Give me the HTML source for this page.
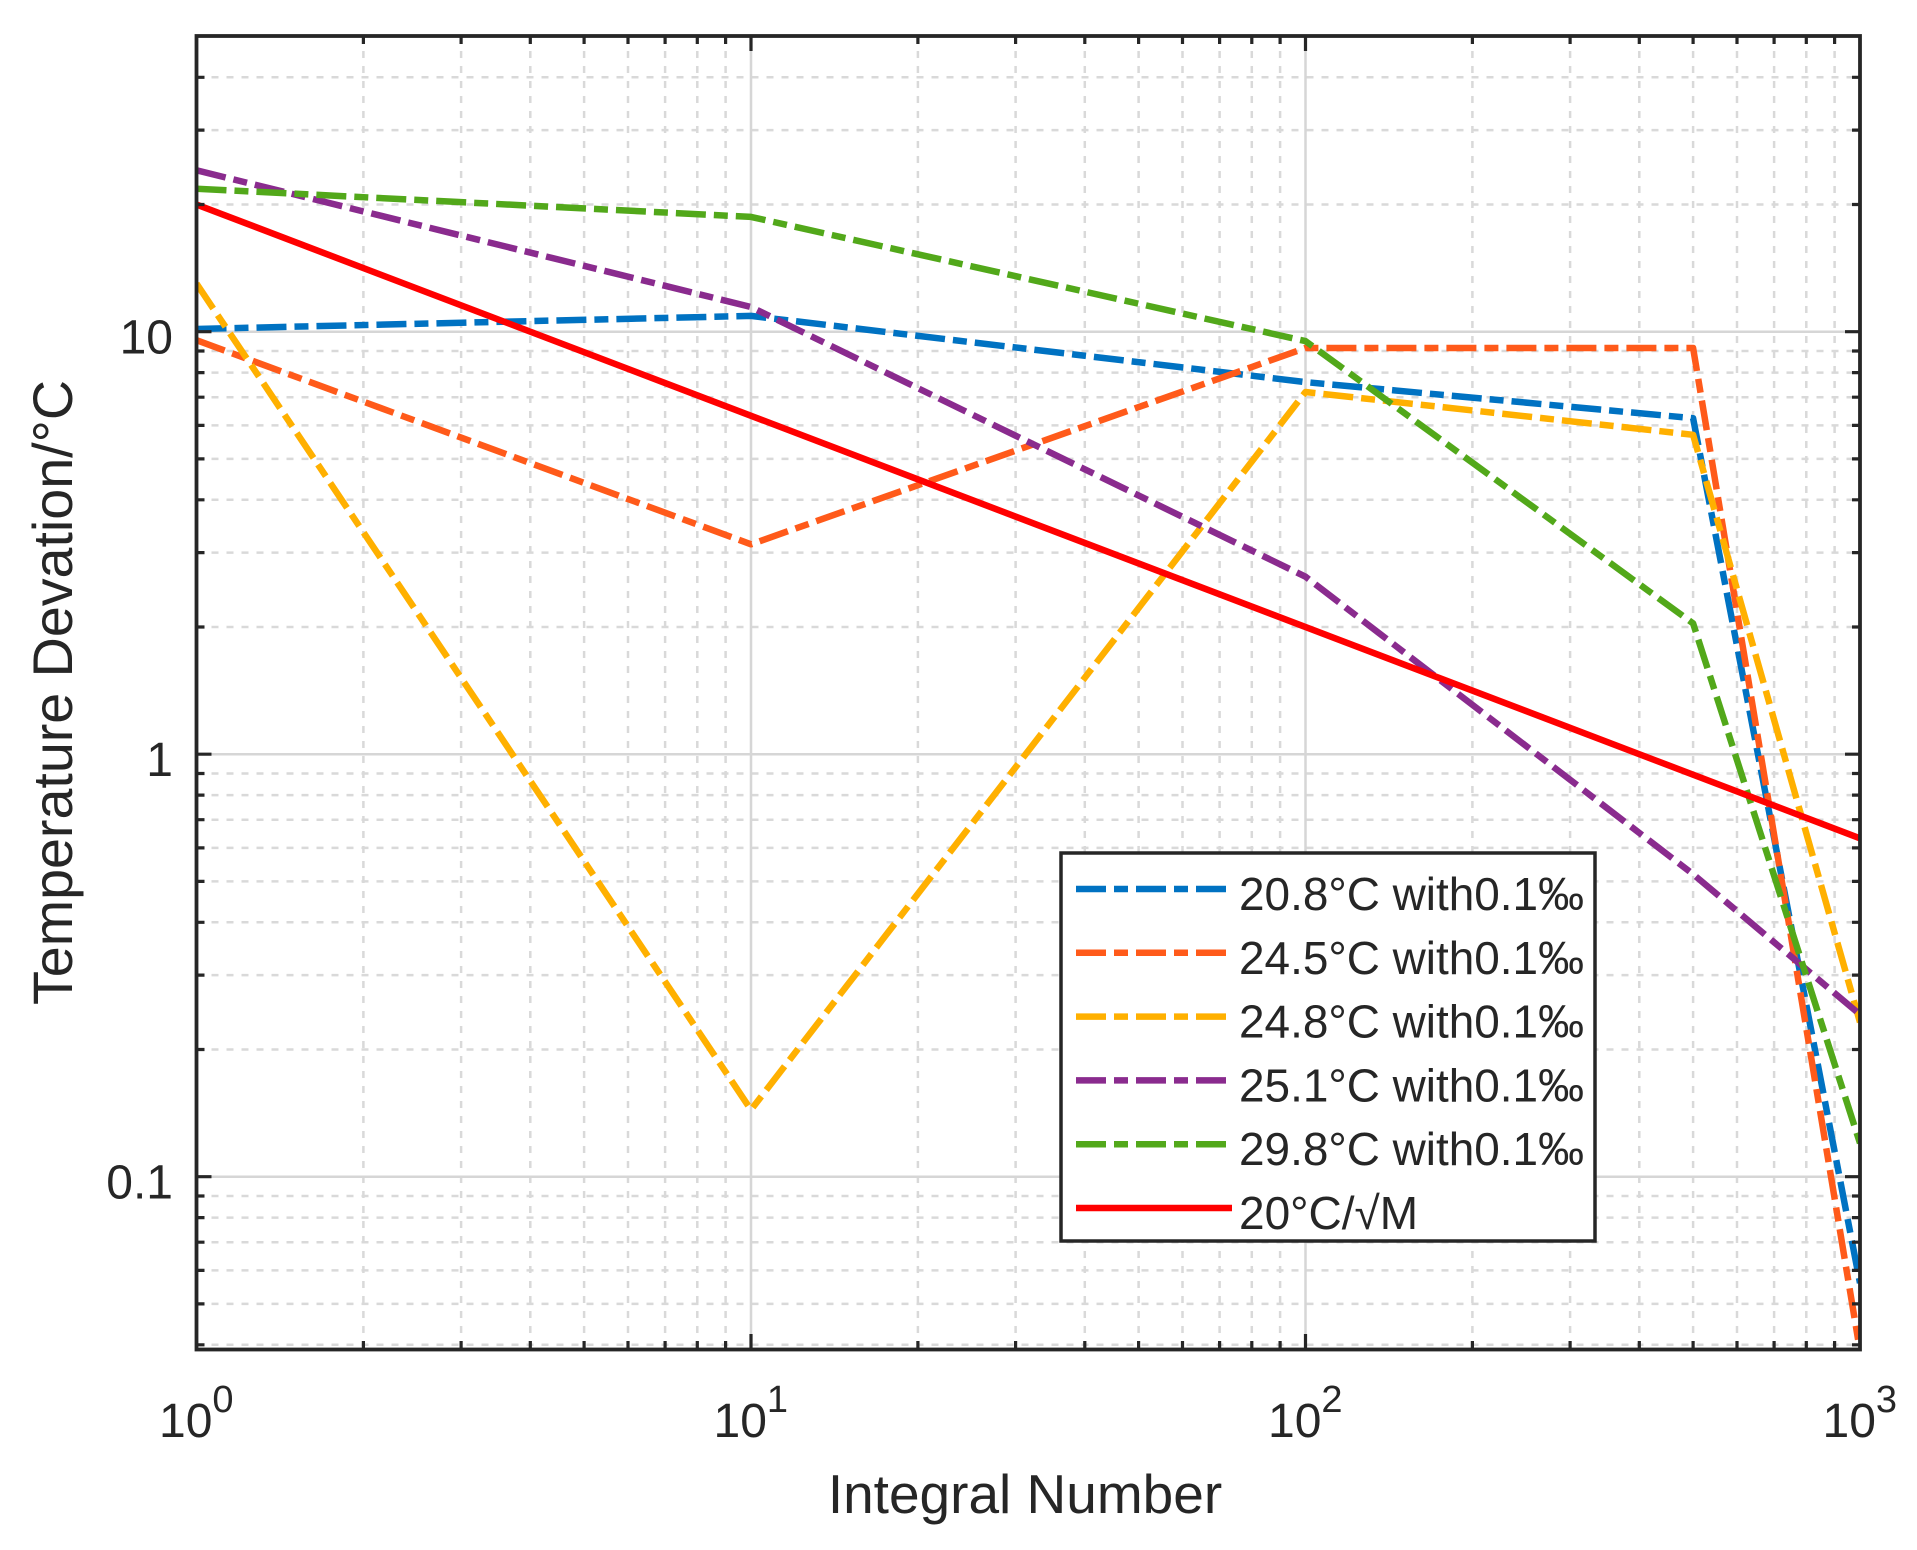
<!DOCTYPE html>
<html>
<head>
<meta charset="utf-8">
<style>
html,body{margin:0;padding:0;background:#fff;}
svg{display:block;}
text{font-family:"Liberation Sans",Arial,sans-serif;fill:#262626;}
</style>
</head>
<body>
<svg width="1917" height="1550" viewBox="0 0 1917 1550" xmlns="http://www.w3.org/2000/svg">
<defs>
<clipPath id="ax"><rect x="196.5" y="36" width="1663.5" height="1313.5"/></clipPath>
</defs>
<rect x="0" y="0" width="1917" height="1550" fill="#fff"/>

<!-- minor grid -->
<g stroke="#d9d9d9" stroke-width="2.5" stroke-dasharray="7 8" fill="none">
<path d="M363.4 36V1349M461.1 36V1349M530.3 36V1349M584.1 36V1349M628 36V1349M665.1 36V1349M697.3 36V1349M725.6 36V1349
M917.9 36V1349M1015.6 36V1349M1084.8 36V1349M1138.6 36V1349M1182.5 36V1349M1219.6 36V1349M1251.8 36V1349M1280.1 36V1349
M1472.4 36V1349M1570.1 36V1349M1639.3 36V1349M1693.1 36V1349M1737 36V1349M1774.1 36V1349M1806.3 36V1349M1834.6 36V1349"/>
<path d="M196.5 204.5H1860M196.5 130.1H1860M196.5 77.3H1860
M196.5 627H1860M196.5 552.6H1860M196.5 499.8H1860M196.5 458.9H1860M196.5 425.4H1860M196.5 397.2H1860M196.5 372.6H1860M196.5 351H1860
M196.5 1049.5H1860M196.5 975.1H1860M196.5 922.3H1860M196.5 881.4H1860M196.5 847.9H1860M196.5 819.7H1860M196.5 795.1H1860M196.5 773.5H1860
M196.5 1344.8H1860M196.5 1303.9H1860M196.5 1270.4H1860M196.5 1242.2H1860M196.5 1217.6H1860M196.5 1196H1860"/>
</g>
<!-- major grid -->
<g stroke="#d6d6d6" stroke-width="2.5" fill="none">
<path d="M751 36V1349M1305.5 36V1349M196.5 331.7H1860M196.5 754.2H1860M196.5 1176.7H1860"/>
</g>

<!-- series -->
<g clip-path="url(#ax)" fill="none" stroke-width="6.5" stroke-linejoin="round">
<polyline stroke="#0072C2" stroke-dasharray="30 8 14 8" points="196.5,329 751,315.9 1305.5,382.1 1693.1,418.2 1860,1283.1"/>
<polyline stroke="#FF5A1A" stroke-dasharray="30 8 14 8" points="196.5,340.2 751,544.3 1305.5,348 1693.1,348 1860,1351"/>
<polyline stroke="#FFB000" stroke-dasharray="30 8 14 8" points="196.5,283.6 751,1109.8 1305.5,392 1693.1,434.8 1860,1022.3"/>
<polyline stroke="#8A2B8E" stroke-dasharray="30 8 14 8" points="196.5,170.3 751,307 1305.5,576.7 1693.1,874.2 1860,1014.5"/>
<polyline stroke="#52A81A" stroke-dasharray="30 8 14 8" points="196.5,188.7 751,216.9 1305.5,341.1 1693.1,623.4 1860,1143.2"/>
<polyline stroke="#FF0000" points="196.5,204.5 1860,838.3"/>
</g>

<!-- ticks -->
<g stroke="#262626" stroke-width="3.2" fill="none">
<path d="M751 1349v-15M1305.5 1349v-15M751 36v15M1305.5 36v15"/>
<path d="M363.4 1349v-8M461.1 1349v-8M530.3 1349v-8M584.1 1349v-8M628 1349v-8M665.1 1349v-8M697.3 1349v-8M725.6 1349v-8
M917.9 1349v-8M1015.6 1349v-8M1084.8 1349v-8M1138.6 1349v-8M1182.5 1349v-8M1219.6 1349v-8M1251.8 1349v-8M1280.1 1349v-8
M1472.4 1349v-8M1570.1 1349v-8M1639.3 1349v-8M1693.1 1349v-8M1737 1349v-8M1774.1 1349v-8M1806.3 1349v-8M1834.6 1349v-8"/>
<path d="M363.4 36v8M461.1 36v8M530.3 36v8M584.1 36v8M628 36v8M665.1 36v8M697.3 36v8M725.6 36v8
M917.9 36v8M1015.6 36v8M1084.8 36v8M1138.6 36v8M1182.5 36v8M1219.6 36v8M1251.8 36v8M1280.1 36v8
M1472.4 36v8M1570.1 36v8M1639.3 36v8M1693.1 36v8M1737 36v8M1774.1 36v8M1806.3 36v8M1834.6 36v8"/>
<path d="M196.5 331.7h15M196.5 754.2h15M196.5 1176.7h15M1860 331.7h-15M1860 754.2h-15M1860 1176.7h-15"/>
<path d="M196.5 204.5h8M196.5 130.1h8M196.5 77.3h8
M196.5 627h8M196.5 552.6h8M196.5 499.8h8M196.5 458.9h8M196.5 425.4h8M196.5 397.2h8M196.5 372.6h8M196.5 351h8
M196.5 1049.5h8M196.5 975.1h8M196.5 922.3h8M196.5 881.4h8M196.5 847.9h8M196.5 819.7h8M196.5 795.1h8M196.5 773.5h8
M196.5 1344.8h8M196.5 1303.9h8M196.5 1270.4h8M196.5 1242.2h8M196.5 1217.6h8M196.5 1196h8"/>
<path d="M1860 204.5h-8M1860 130.1h-8M1860 77.3h-8
M1860 627h-8M1860 552.6h-8M1860 499.8h-8M1860 458.9h-8M1860 425.4h-8M1860 397.2h-8M1860 372.6h-8M1860 351h-8
M1860 1049.5h-8M1860 975.1h-8M1860 922.3h-8M1860 881.4h-8M1860 847.9h-8M1860 819.7h-8M1860 795.1h-8M1860 773.5h-8
M1860 1344.8h-8M1860 1303.9h-8M1860 1270.4h-8M1860 1242.2h-8M1860 1217.6h-8M1860 1196h-8"/>
</g>

<!-- axes box -->
<rect x="196.5" y="36" width="1663.5" height="1313.5" fill="none" stroke="#262626" stroke-width="3.8"/>

<!-- y tick labels -->
<g font-size="48" text-anchor="end">
<text x="173" y="353.7">10</text>
<text x="173" y="776.2">1</text>
<text x="173" y="1198.7">0.1</text>
</g>

<!-- x tick labels -->
<g>
<text x="159" y="1437" font-size="48">10</text><text x="212.4" y="1412" font-size="38">0</text>
<text x="713.5" y="1437" font-size="48">10</text><text x="766.9" y="1412" font-size="38">1</text>
<text x="1268" y="1437" font-size="48">10</text><text x="1321.4" y="1412" font-size="38">2</text>
<text x="1822.5" y="1437" font-size="48">10</text><text x="1875.9" y="1412" font-size="38">3</text>
</g>

<!-- axis labels -->
<text x="1025" y="1513" font-size="55" text-anchor="middle">Integral Number</text>
<text transform="translate(72,692.5) rotate(-90)" x="0" y="0" font-size="56" text-anchor="middle" textLength="625" lengthAdjust="spacingAndGlyphs">Temperature Devation/°C</text>

<!-- legend -->
<rect x="1061" y="853" width="534" height="388" fill="#fff" stroke="#262626" stroke-width="3.5"/>
<g fill="none" stroke-width="6.5">
<line x1="1076" y1="889" x2="1229" y2="889" stroke="#0072C2" stroke-dasharray="30 8 14 8"/>
<line x1="1076" y1="952.8" x2="1229" y2="952.8" stroke="#FF5A1A" stroke-dasharray="30 8 14 8"/>
<line x1="1076" y1="1016.6" x2="1229" y2="1016.6" stroke="#FFB000" stroke-dasharray="30 8 14 8"/>
<line x1="1076" y1="1080.4" x2="1229" y2="1080.4" stroke="#8A2B8E" stroke-dasharray="30 8 14 8"/>
<line x1="1076" y1="1144.2" x2="1229" y2="1144.2" stroke="#52A81A" stroke-dasharray="30 8 14 8"/>
<line x1="1076" y1="1208" x2="1232" y2="1208" stroke="#FF0000"/>
</g>
<g font-size="46">
<text x="1239" y="910" textLength="345" lengthAdjust="spacingAndGlyphs">20.8°C with0.1‰</text>
<text x="1239" y="973.8" textLength="345" lengthAdjust="spacingAndGlyphs">24.5°C with0.1‰</text>
<text x="1239" y="1037.6" textLength="345" lengthAdjust="spacingAndGlyphs">24.8°C with0.1‰</text>
<text x="1239" y="1101.4" textLength="345" lengthAdjust="spacingAndGlyphs">25.1°C with0.1‰</text>
<text x="1239" y="1165.2" textLength="345" lengthAdjust="spacingAndGlyphs">29.8°C with0.1‰</text>
<text x="1239" y="1229">20°C/√M</text>
</g>
</svg>
</body>
</html>
